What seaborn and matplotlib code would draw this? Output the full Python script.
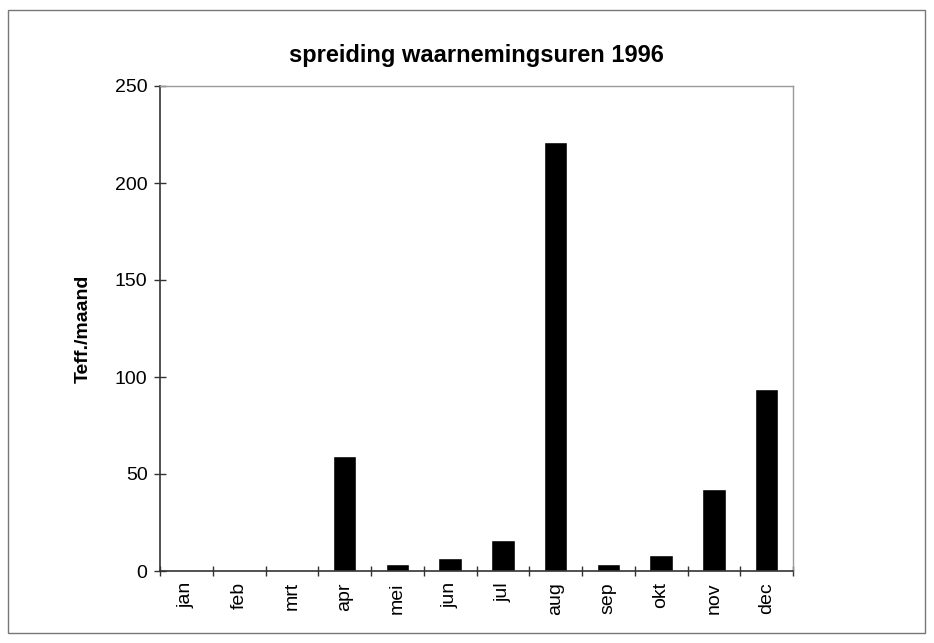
import numpy as np
import pandas as pd
import matplotlib
matplotlib.use('Agg')
import matplotlib.pyplot as plt
import seaborn as sns
from matplotlib.patches import Rectangle

months = ['jan', 'feb', 'mrt', 'apr', 'mei', 'jun', 'jul', 'aug', 'sep', 'okt', 'nov', 'dec']
uren = [0, 0, 0, 59.5, 3.5, 6.5, 16, 221, 3.5, 8.5, 42.5, 94]
y_ticks = [0, 50, 100, 150, 200, 250]

df = pd.DataFrame({'maand': months, 'uren': uren})

sns.set_style('white')
plt.rcParams['font.family'] = ['Liberation Sans', 'DejaVu Sans']
plt.rcParams['text.color'] = 'black'
plt.rcParams['axes.labelcolor'] = 'black'
plt.rcParams['xtick.color'] = 'black'
plt.rcParams['ytick.color'] = 'black'

fig = plt.figure(figsize=(9.34, 6.43), dpi=100)
ax = fig.add_axes([160 / 934, 1 - 571 / 643, (793 - 160) / 934, (571 - 86) / 643])

sns.barplot(data=df, x='maand', y='uren', color='black', width=0.45,
            saturation=1, ax=ax)

ax.set_xlim(-0.5, 11.5)
ax.set_ylim(0, 250)
ax.set_yticks(y_ticks)
ax.set_yticklabels([str(t) for t in y_ticks], fontsize=14)
ax.set_xticks(range(12))
ax.set_xticklabels(months, rotation=90, fontsize=14)
ax.set_xticks(np.arange(-0.5, 12, 1), minor=True)
ax.tick_params(axis='x', which='major', bottom=True, length=0, pad=8)
ax.tick_params(axis='x', which='minor', bottom=True, length=7, width=1,
               color='#333333', direction='inout')
ax.tick_params(axis='y', left=True, length=8, width=1, color='#333333',
               direction='inout', pad=5)

ax.set_xlabel('')
ax.set_ylabel('Teff./maand', fontsize=14, fontweight='bold')
ax.yaxis.set_label_coords(-0.108, 0.5)
ax.set_title('spreiding waarnemingsuren 1996', fontsize=17, fontweight='bold', pad=17)

for side in ['left', 'bottom']:
    ax.spines[side].set_color('#333333')
    ax.spines[side].set_linewidth(1.2)
for side in ['top', 'right']:
    ax.spines[side].set_visible(True)
    ax.spines[side].set_color('#999999')
    ax.spines[side].set_linewidth(1)

fig.patches.append(Rectangle((8 / 934, 10 / 643), 917 / 934, 623 / 643,
                             transform=fig.transFigure, fill=False,
                             edgecolor='#777777', linewidth=1))

fig.savefig('out.png', dpi=100)
